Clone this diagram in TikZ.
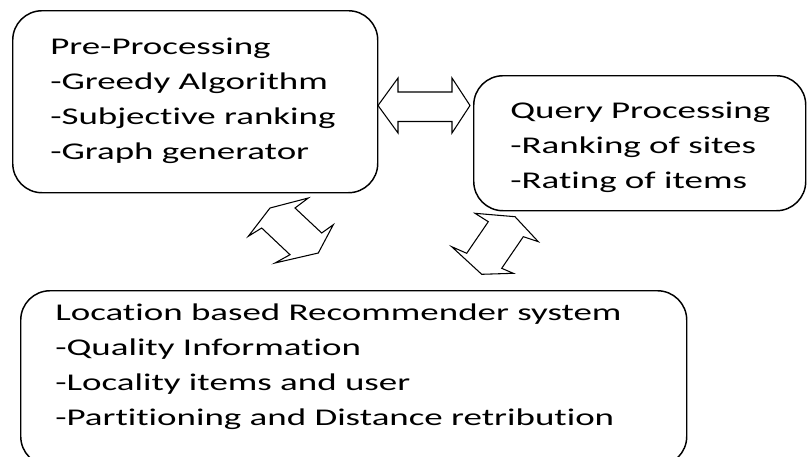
\documentclass[tikz,border=0pt]{standalone}
\usepackage{fontspec}
\setmainfont{Carlito}[FakeStretch=1.54, Ligatures={NoCommon}]
\usepackage{tikz}

\tikzset{
	box/.style={draw, line width=1.1pt, rounded corners=22pt, anchor=north west, inner sep=0pt},
	boxtext/.style={anchor=north west, align=left, inner sep=0pt, font=\fontsize{18}{26.25}\selectfont},
	blockarrow/.style={draw, line width=0.8pt, line join=miter, fill=white}
}

\begin{document}
\begin{tikzpicture}[x=0.75pt,y=-0.75pt]
			\useasboundingbox (0,0) rectangle (807,457);
			\clip (0,0) rectangle (807,457);
			% the three blocks
			\node [box, minimum width=273.75pt, minimum height=136.5pt] (pre) at (12,10) {};
			\node [box, minimum width=249pt, minimum height=101.25pt] (query) at (473,75) {};
			\node [box, minimum width=499.5pt, minimum height=131.25pt] (lbrs) at (20,290) {};
			\node [boxtext] (pretext) at (50,29.5) {\strut Pre-Processing\\-Greedy Algorithm\\-Subjective ranking\\-Graph generator};
			\node [boxtext] (querytext) at (510,93.5) {\strut Query Processing\\-Ranking of sites\\-Rating of items};
			\node [boxtext] (lbrstext) at (55,295.5) {\strut Location based Recommender system\\-Quality Information\\-Locality items and user\\-Partitioning and Distance retribution};
			% double block arrows
			\draw[blockarrow] (378,105.5) -- (398,78) -- (398,92) -- (452,92) -- (452,78) -- (470,105.5)
				-- (452,133) -- (452,121.5) -- (398,121.5) -- (398,133) -- cycle;
			\draw[blockarrow] (248.3,236.3) -- (270,208) -- (308.3,198) -- (295,208) -- (321.7,233) -- (333.3,224.7)
				-- (318.3,253) -- (275,263) -- (290,254.7) -- (261.7,228) -- cycle;
			\draw[blockarrow] (475,213.3) -- (515,216.7) -- (538.3,241.7) -- (523.3,236.7) -- (501.7,268.3) -- (513.3,273.3)
				-- (481.7,274.3) -- (451.7,246.7) -- (466.7,253.3) -- (488.3,221.7) -- cycle;
	\end{tikzpicture}
\end{document}
